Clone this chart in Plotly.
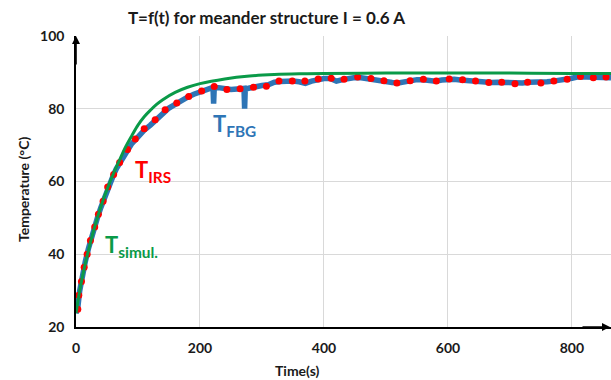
import plotly.graph_objects as go

# ---- data ----
fbg_t = [0, 3, 6, 10, 15, 20, 25, 30, 35, 40, 45, 50, 55, 60, 65, 70, 75, 80, 85, 90, 95, 100,
         105, 110, 120, 130, 140, 150, 160, 170, 180, 190, 200, 210, 218, 221, 222, 223, 230,
         240, 250, 260, 268, 271, 272, 273, 280, 290, 300, 310, 320, 330, 340, 350, 360, 370,
         380, 390, 400, 410, 420, 430, 440, 450, 460, 470, 480, 490, 500, 510, 520, 530, 540,
         550, 560, 570, 580, 590, 600, 610, 620, 630, 640, 650, 660, 670, 680, 690, 700, 710,
         720, 730, 740, 750, 760, 770, 780, 790, 800, 810, 820, 830, 840, 850, 863]
fbg_T = [23.8, 25.5, 30.0, 34.0, 38.0, 41.5, 44.8, 47.3, 50.3, 52.8, 55.2, 57.8, 59.8, 61.6, 63.5,
         64.9, 66.5, 67.9, 69.0, 70.4, 71.3, 72.4, 73.3, 74.1, 75.5, 77.1, 78.8, 80.2, 81.2, 82.4,
         83.2, 84.0, 84.7, 85.3, 85.9, 85.9, 81.4, 85.8, 85.8, 85.4, 85.3, 85.4, 85.6, 85.6, 80.0,
         85.4, 85.7, 86.2, 86.4, 86.6, 87.3, 87.5, 87.6, 87.6, 87.4, 87.0, 87.6, 88.0, 88.3, 88.3,
         87.6, 88.0, 88.4, 88.6, 88.5, 88.2, 88.1, 87.8, 87.5, 87.2, 87.1, 87.5, 87.7, 88.0, 88.0,
         87.8, 87.6, 87.9, 88.1, 88.1, 87.9, 87.7, 87.6, 87.4, 87.2, 87.2, 87.3, 87.2, 87.0, 86.9,
         87.1, 87.3, 87.3, 87.2, 87.4, 87.6, 87.8, 88.1, 88.4, 88.8, 88.7, 88.5, 88.5, 88.4, 88.5]

irs_t = [2.9, 4.5, 8.8, 13.2, 18.0, 23.3, 30.2, 36.1, 43.7, 51.1, 60.7, 70.4, 83.2, 95.6, 110.0,
         127.7, 143.8, 162.6, 181.8, 202.7, 223.0, 243.4, 264.7, 286.3, 307.1, 327.4, 348.9,
         369.2, 390.7, 411.6, 432.4, 454.3, 475.8, 496.7, 517.6, 539.0, 560.3, 581.2, 602.1,
         623.6, 644.5, 665.9, 686.7, 708.1, 728.5, 749.9, 770.8, 792.3, 813.7, 834.5, 855.0]
irs_T = [24.9, 28.7, 32.5, 36.4, 40.0, 43.8, 47.5, 51.0, 54.6, 58.5, 61.9, 65.2, 68.8, 71.7, 74.5,
         77.0, 79.7, 81.6, 83.4, 84.9, 86.1, 85.3, 85.5, 85.9, 86.2, 87.6, 87.6, 87.6, 88.2, 88.4,
         88.1, 88.7, 88.3, 87.7, 87.1, 87.7, 88.1, 87.6, 88.2, 88.0, 87.6, 87.2, 87.3, 86.9, 87.3,
         87.1, 87.6, 88.1, 88.9, 88.5, 88.7]

sim_t = [0, 5, 10, 15, 20, 30, 40, 50, 60, 70, 80, 90, 100, 110, 120, 130, 140, 160, 180, 200,
         240, 280, 320, 360, 400, 500, 600, 700, 800, 863]
sim_T = [23.8, 29.0, 33.5, 37.5, 41.0, 47.5, 53.0, 57.8, 62.0, 65.8, 69.5, 72.6, 75.5, 77.8, 79.6,
         81.2, 82.5, 84.5, 85.9, 86.9, 88.2, 89.0, 89.4, 89.6, 89.7, 89.8, 89.8, 89.8, 89.7, 89.7]

x_ticks = [0, 200, 400, 600, 800]
y_ticks = [20, 40, 60, 80, 100]

title_text = "T=f(t) for meander structure I = 0.6 A"
x_title = "Time(s)"
y_title = "Temperature (°C)"

BLUE = "#2E75B6"
RED = "#FF0000"
GREEN = "#0A9A48"
FONT = "Lato"
TXT = "#1a1a1a"

fig = go.Figure()
fig.add_trace(go.Scatter(x=fbg_t, y=fbg_T, mode="lines",
                         line=dict(color=BLUE, width=5.5), name="T FBG"))
fig.add_trace(go.Scatter(x=irs_t, y=irs_T, mode="markers",
                         marker=dict(color=RED, size=7), name="T IRS"))
fig.add_trace(go.Scatter(x=sim_t, y=sim_T, mode="lines", line_shape="spline",
                         line=dict(color=GREEN, width=3), name="T simul."))

W, H = 611, 380
L, R, T, B = 76, 0, 36, 53
pw, ph = W - L - R, H - T - B


def px_x(x):
    return (x - L) / pw


def px_y(y):
    return 1 - (y - T) / ph


annos = []
for text, x, y, col in [("<b>T<sub>FBG</sub></b>", 211, 125, BLUE),
                        ("<b>T<sub>IRS</sub></b>", 133, 171, RED),
                        ("<b>T<sub>simul.</sub></b>", 103, 246, GREEN)]:
    annos.append(dict(text=text, x=px_x(x), y=px_y(y), xref="paper", yref="paper",
                      xanchor="left", yanchor="middle", showarrow=False,
                      font=dict(color=col, size=22, family=FONT)))

# axis titles
annos.append(dict(text="<b>" + x_title + "</b>", x=px_x(297), y=px_y(370),
                  xref="paper", yref="paper", showarrow=False, xanchor="center", yanchor="middle",
                  font=dict(size=14, family=FONT, color=TXT)))
annos.append(dict(text="<b>" + y_title + "</b>", x=px_x(23), y=px_y(190),
                  xref="paper", yref="paper", showarrow=False, textangle=-90,
                  xanchor="center", yanchor="middle",
                  font=dict(size=14, family=FONT, color=TXT)))
# axis arrows
annos.append(dict(x=0, y=1, xref="paper", yref="paper", ax=0, ay=30,
                  text="", showarrow=True, arrowhead=2, arrowsize=1, arrowwidth=1.6,
                  arrowcolor="black"))
annos.append(dict(x=1.0, y=0, xref="paper", yref="paper", ax=-30, ay=0, text="",
                  showarrow=True, arrowhead=2, arrowsize=1, arrowwidth=1.6, arrowcolor="black"))

fig.update_layout(
    width=W, height=H,
    margin=dict(l=L, r=R, t=T, b=B, autoexpand=False),
    paper_bgcolor="white", plot_bgcolor="white",
    showlegend=False,
    title=dict(text="<b>" + title_text + "</b>", x=266.5 / W, xref="container", xanchor="center",
               y=1 - 18 / H, yref="container", yanchor="middle",
               font=dict(size=17, family=FONT, color=TXT)),
    font=dict(family=FONT, color=TXT),
    annotations=annos,
)
fig.update_xaxes(range=[0, 863], tickvals=x_ticks, ticktext=[f"<b>{v}</b>" for v in x_ticks],
                 showgrid=True, gridcolor="#D9D9D9", gridwidth=1,
                 showline=True, linecolor="black", linewidth=1.6, zeroline=False,
                 ticks="", tickfont=dict(size=14, family=FONT), ticklabelstandoff=7)
fig.update_yaxes(range=[20, 100], tickvals=y_ticks, ticktext=[f"<b>{v}</b>" for v in y_ticks],
                 showgrid=True, gridcolor="#D9D9D9", gridwidth=1,
                 showline=True, linecolor="black", linewidth=1.6, zeroline=False,
                 ticks="", tickfont=dict(size=14, family=FONT), ticklabelstandoff=7)

fig.write_html("out.html", config={"displayModeBar": False},
               post_script="document.body.style.margin='0';")
